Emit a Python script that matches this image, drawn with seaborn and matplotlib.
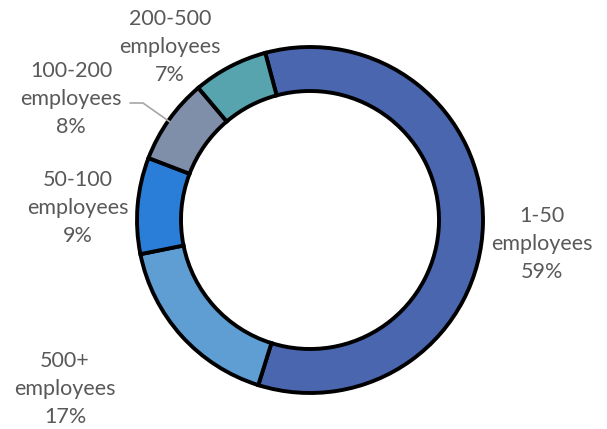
import numpy as np
import seaborn as sns
import matplotlib.pyplot as plt

# Dados do gráfico
categorias = ['1-50\nemployees', '500+\nemployees', '50-100\nemployees',
              '100-200\nemployees', '200-500\nemployees']
percentuais = [59, 17, 9, 8, 7]
cores = ['#4A66AF', '#5E9ED3', '#2A7ED8', '#7F8EA9', '#58A4AE']

# posições dos rótulos (pixels)
pos_rotulos = [(542, 244), (65, 389), (78, 208), (71, 99), (170, 47)]

sns.set_theme(style='white')
plt.rcParams['font.family'] = ['Lato', 'DejaVu Sans']

fig = plt.figure(figsize=(6.07, 4.29), dpi=100)
ax = fig.add_axes([0, 0, 1, 1])

centro = (310, 220)
raio = 173
largura = 44

# eixo y invertido: -90 aponta para cima e o sentido fica horário
wedges, _ = ax.pie(percentuais, colors=cores, startangle=-105, counterclock=True,
                   radius=raio, center=centro,
                   wedgeprops=dict(width=largura, edgecolor='black', linewidth=2.8))
ax.set_xlim(0, 607)
ax.set_ylim(429, 0)
ax.set_aspect('auto')
ax.axis('off')

for cat, pct, (x, y) in zip(categorias, percentuais, pos_rotulos):
    ax.text(x, y, f'{cat}\n{pct}%', ha='center', va='center', fontsize=15.5,
            color='#595959', linespacing=1.5)

# linha guia para 100-200
ax.plot([130, 143, 170], [103, 103, 122], color='#A6A6A6', linewidth=1.2)

fig.savefig('out.png', dpi=100)
